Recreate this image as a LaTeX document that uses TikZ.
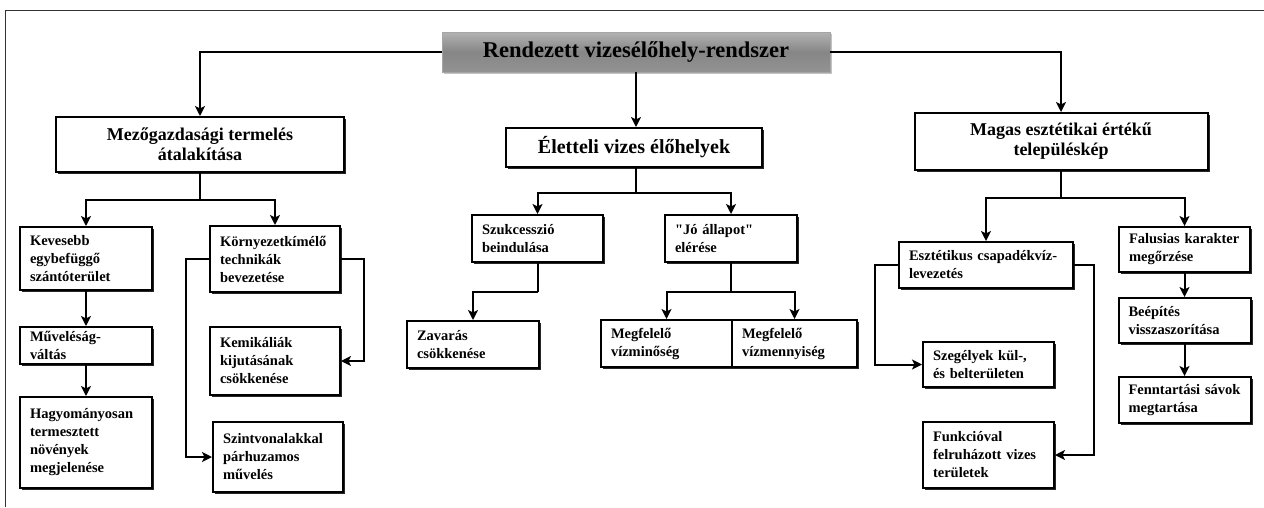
\documentclass[tikz,border=0pt]{standalone}
\usepackage{fontspec}
\setmainfont{Liberation Serif}
\usetikzlibrary{positioning}
\usetikzlibrary{calc}
\usetikzlibrary{arrows.meta}
\usetikzlibrary{shadows}

\newcommand{\rootfont}{\fontsize{22.5}{26}\selectfont\bfseries}
\newcommand{\headfont}{\fontsize{18}{20}\selectfont\bfseries}
\newcommand{\leaffont}{\fontsize{14.5}{18}\selectfont\bfseries}

\begin{document}
\begin{tikzpicture}[x=1pt, y=-1pt,
    rootbox/.style={draw=gray!70, line width=0.6pt, top color=gray!60, bottom color=gray!85,
        middle color=gray!95, font=\rootfont, inner sep=0pt,
        drop shadow={shadow xshift=1.5pt, shadow yshift=-1.5pt, fill=black!40, opacity=0.6}},
    headbox/.style={draw, line width=2pt, fill=white, font=\headfont, align=center, inner sep=0pt,
        drop shadow={shadow xshift=2pt, shadow yshift=-2pt, fill=black, opacity=0.85}},
    leafbox/.style={draw, line width=2pt, fill=white, font=\leaffont, align=left,
        inner xsep=10pt, inner ysep=2pt,
        drop shadow={shadow xshift=2pt, shadow yshift=-2pt, fill=black, opacity=0.85}},
    link/.style={line width=2pt},
    arr/.style={line width=2pt, -{Stealth[length=10pt, width=10pt, inset=2.5pt]}}
]
    \useasboundingbox (0,0) rectangle (1264,507);

    % Frame
    \draw[line width=1pt, black!80] (5,507) -- (5,10) -- (1264,10);

    % Root
    \node[rootbox, minimum width=388pt, minimum height=40pt] (root) at (636,52)
        {Rendezett vizesélőhely-rendszer};

    % Level 1
    \node[headbox, minimum width=288pt, minimum height=55pt] (mezo) at (200,144.5)
        {Mezőgazdasági termelés\\átalakítása};
    \node[headbox, minimum width=256pt, minimum height=39pt, font=\fontsize{20}{22}\selectfont\bfseries]
        (elet) at (634,147.5) {Életteli vizes élőhelyek};
    \node[headbox, minimum width=293pt, minimum height=57pt] (magas) at (1061,141.5)
        {Magas esztétikai értékű\\településkép};

    \draw[arr] (root.west) -| (mezo.north);
    \draw[arr] (root.south) -- (elet.north -| root.south);
    \draw[arr] (root.east) -| (magas.north);

    % Mezogazdasag
    \node[leafbox, text width=112pt, minimum height=63pt] (kev) at (86,258.5)
        {Kevesebb\\egybefüggő\\szántóterület};
    \node[leafbox, text width=112pt, minimum height=37pt] (muv) at (86,345.5)
        {Műveléság-\\váltás};
    \node[leafbox, text width=112pt, minimum height=91pt] (hagy) at (86,442.5)
        {Hagyományosan\\termesztett\\növények\\megjelenése};
    \node[leafbox, text width=110pt, minimum height=66pt] (korny) at (275,259)
        {Környezetkímélő\\technikák\\bevezetése};
    \node[leafbox, text width=110pt, minimum height=68pt] (kem) at (275,361)
        {Kemikáliák\\kijutásának\\csökkenése};
    \node[leafbox, text width=110pt, minimum height=70pt] (szint) at (278,457)
        {Szintvonalakkal\\párhuzamos\\művelés};

    \coordinate (mezosplit) at (200,200);
    \draw[link] (mezo.south) -- (mezosplit);
    \draw[arr] (mezosplit) -| (kev.north);
    \draw[arr] (mezosplit) -| (korny.north);
    \draw[arr] (kev.south) -- (muv.north);
    \draw[arr] (muv.south) -- (hagy.north);
    \draw[arr] (korny.west) -- ++(-23,0) |- (szint.west);
    \draw[arr] (korny.east) -- ++(23,0) |- (kem.east);

    % Eletteli vizes elohelyek
    \node[leafbox, text width=111pt, minimum height=47pt] (szuk) at (537.5,238.5)
        {Szukcesszió\\beindulása};
    \node[leafbox, text width=112pt, minimum height=47pt] (jo) at (731,238.5)
        {\textquotedbl Jó állapot\textquotedbl\\elérése};
    \node[leafbox, text width=112pt, minimum height=47pt] (zav) at (473,344.5)
        {Zavarás\\csökkenése};
    \node[leafbox, text width=111pt, minimum height=47pt] (vmin) at (666.5,343.5)
        {Megfelelő\\vízminőség};
    \node[leafbox, text width=105pt, minimum height=47pt] (vmenny) at (794.5,343.5)
        {Megfelelő\\vízmennyiség};

    \coordinate (eletsplit) at (636,193);
    \coordinate (szuksplit) at (537.5,292);
    \coordinate (josplit) at (731,292);
    \draw[link] (elet.south -| eletsplit) -- (eletsplit);
    \draw[arr] (eletsplit) -| (szuk.north);
    \draw[arr] (eletsplit) -| (jo.north);
    \draw[link] (szuk.south) -- (szuksplit);
    \draw[arr] (szuksplit) -| (zav.north);
    \draw[link] (jo.south) -- (josplit);
    \draw[arr] (josplit) -| (vmin.north);
    \draw[arr] (josplit) -| (vmenny.north);

    % Magas esztetikai ertek
    \node[leafbox, text width=154pt, minimum height=46pt] (eszt) at (986,265)
        {Esztétikus csapadékvíz-\\levezetés};
    \node[leafbox, text width=111pt, minimum height=45pt] (fal) at (1184.5,249.5)
        {Falusias karakter\\megőrzése};
    \node[leafbox, text width=112pt, minimum height=45pt] (bee) at (1184.5,320.5)
        {Beépítés\\visszaszorítása};
    \node[leafbox, text width=112pt, minimum height=46pt] (fenn) at (1184.5,400)
        {Fenntartási sávok\\megtartása};
    \node[leafbox, text width=111pt, minimum height=45pt] (szeg) at (988.5,364.5)
        {Szegélyek kül-,\\és belterületen};
    \node[leafbox, text width=111pt, minimum height=66pt] (funk) at (988.5,455)
        {Funkcióval\\felruházott vizes\\területek};

    \coordinate (magassplit) at (1061,198);
    \draw[link] (magas.south) -- (magassplit);
    \draw[arr] (magassplit) -| (eszt.north);
    \draw[arr] (magassplit) -| (fal.north);
    \draw[arr] (fal.south) -- (bee.north);
    \draw[arr] (bee.south) -- (fenn.north);
    \draw[arr] (eszt.west) -- ++(-23,0) |- (szeg.west);
    \draw[arr] (eszt.east) -- ++(20,0) |- (funk.east);
\end{tikzpicture}
\end{document}
